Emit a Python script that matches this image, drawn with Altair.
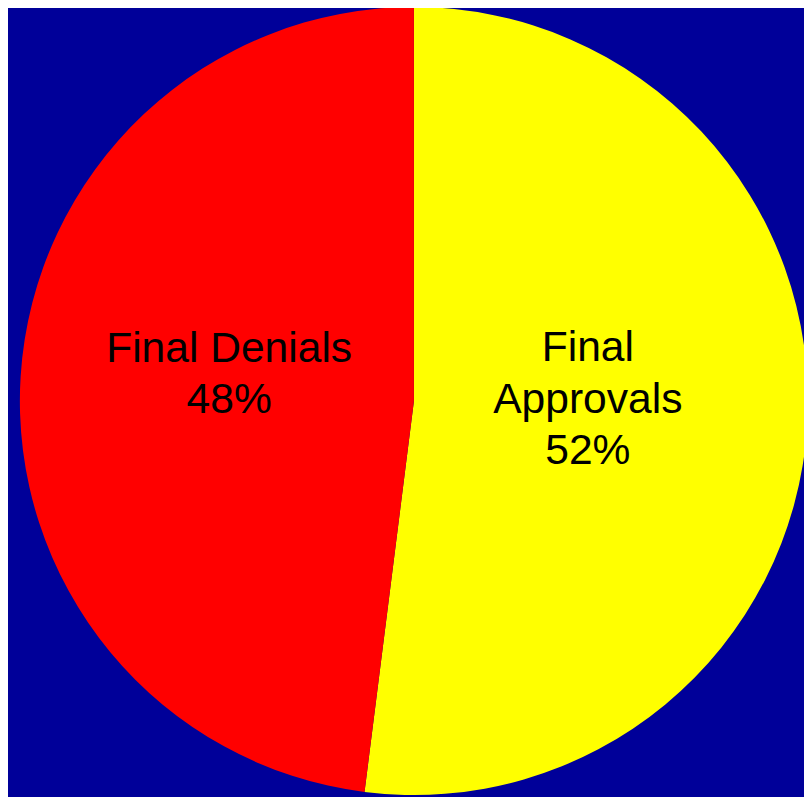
import altair as alt
import pandas as pd

categories = ["Final Approvals", "Final Denials"]
values = [52, 48]
labels = [["Final", "Approvals", "52%"], ["Final Denials", "48%"]]
colors = ["#FFFF00", "#FF0000"]

df = pd.DataFrame({
    "category": categories,
    "value": values,
    "order": [0, 1],
    "label": ["\n".join(l) for l in labels],
})

W, H = 804, 789
cx, cy = 410, 393

tscale = alt.Scale(domain=[0, 100], range=[0, 6.283185307179586])

base = alt.Chart(df).transform_stack(
    stack="value", groupby=[], as_=["v0", "v1"], sort=[alt.SortField("order", order="ascending")]
).transform_calculate(mid="(datum.v0 + datum.v1) / 2")

pie = base.mark_arc(outerRadius=398, stroke=None).encode(
    theta=alt.Theta("v0:Q", scale=tscale),
    theta2="v1:Q",
    x=alt.value(cx), y=alt.value(cy),
    color=alt.Color("category:N", scale=alt.Scale(domain=categories, range=colors), legend=None),
)

txt_style = dict(font="Liberation Sans", fontSize=43, color="black", lineBreak="\n",
                 lineHeight=52, align="center", baseline="middle")

txt_a = base.transform_filter(alt.datum.category == "Final Approvals").mark_text(
    radius=176, dy=-64, **txt_style).encode(
    theta=alt.Theta("mid:Q", scale=tscale),
    x=alt.value(cx), y=alt.value(cy), text="label:N"
)
txt_d = base.transform_filter(alt.datum.category == "Final Denials").mark_text(
    radius=187, dy=-41, **txt_style).encode(
    theta=alt.Theta("mid:Q", scale=tscale),
    x=alt.value(cx), y=alt.value(cy), text="label:N"
)

chart = alt.layer(pie, txt_a, txt_d).properties(
    width=W, height=H, background="#000099", padding=0,
    autosize=alt.AutoSizeParams(type="none"),
).configure_view(stroke=None, fill="#000099")

chart.save("out.html", embed_options={"renderer": "svg", "actions": False})
